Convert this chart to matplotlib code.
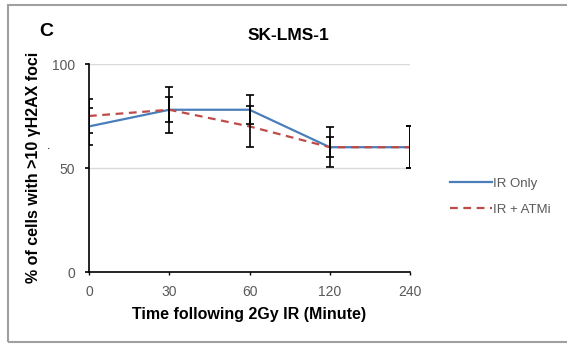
import matplotlib
matplotlib.use("Agg")
import matplotlib.pyplot as plt
from matplotlib.patches import Rectangle
import numpy as np

plt.rcParams['font.family'] = ['Liberation Sans', 'DejaVu Sans']

times = ['0', '30', '60', '120', '240']
ir_only = [70, 78, 78, 60, 60]
ir_only_err = [9, 11, 7, 9.5, 10]
ir_atmi = [75, 78, 70, 60, 60]
ir_atmi_err = [8, 6, 10, 4.7, 10]
yticks = [0, 50, 100]

fig = plt.figure(figsize=(5.67, 3.45), dpi=100)
ax = fig.add_axes([89/567, (345-272)/345, (410-89)/567, (272-64)/345])

x = np.arange(len(times))
blue = '#4a7ebb'
red = '#be4b48'

ax.plot(x, ir_only, color=blue, lw=1.6, label='IR Only', zorder=3)
ax.plot(x, ir_atmi, color=red, lw=1.6, linestyle=(0, (3.5, 2.5)), label='IR + ATMi', zorder=3)
ax.errorbar(x, ir_only, yerr=ir_only_err, fmt='none', ecolor='black', elinewidth=1.2,
            capsize=3, capthick=1.2, zorder=4)
ax.errorbar(x, ir_atmi, yerr=ir_atmi_err, fmt='none', ecolor='black', elinewidth=1.2,
            capsize=3, capthick=1.2, zorder=4)

ax.set_xlim(0, len(times) - 1)
ax.set_ylim(0, 100)
ax.set_xticks(x)
ax.set_xticklabels(times)
ax.set_yticks(yticks)
ax.set_yticklabels([str(v) for v in yticks])
for v in yticks[1:]:
    ax.axhline(v, color='#d9d9d9', lw=1, zorder=1)

for s in ['top', 'right']:
    ax.spines[s].set_visible(False)
for s in ['left', 'bottom']:
    ax.spines[s].set_color('black')
    ax.spines[s].set_linewidth(1.2)
ax.tick_params(axis='y', direction='out', length=3, width=1.2, pad=7, labelsize=10, labelcolor='#595959')
ax.tick_params(axis='x', direction='out', length=2, width=1, pad=7, labelsize=10, labelcolor='#595959')

fig.text(249/567, 1 - 315/345, 'Time following 2Gy IR (Minute)', fontsize=11.5,
         fontweight='bold', ha='center', va='center')
fig.text(34/567, 1 - 167/345, '% of cells with >10 γH2AX foci', fontsize=11.5,
         fontweight='bold', ha='center', va='center', rotation=90)

fig.text(288/567, 1 - 36/345, 'SK-LMS-1', fontsize=12.5, fontweight='bold', ha='center', va='center')
fig.text(46/567, 1 - 31/345, 'C', fontsize=14, fontweight='bold', ha='center', va='center')
fig.text(49/567, 1 - 146/345, '.', fontsize=9, ha='center', va='center')

leg = fig.legend(loc='upper left', bbox_to_anchor=(438/567, 1 - 166/345), frameon=False,
                 fontsize=9.5, handlelength=3.2, handletextpad=0.1, labelspacing=1.0)
for t in leg.get_texts():
    t.set_color('#595959')

fig.patches.append(Rectangle((8/567, 3/345), 1.2, 1 - 5/345 - 3/345, transform=fig.transFigure,
                             fill=False, edgecolor='#a0a0a0', lw=1.5))

fig.savefig('out.png', dpi=100)
